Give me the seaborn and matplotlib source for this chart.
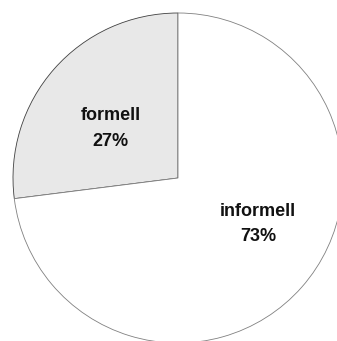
import numpy as np
import matplotlib
matplotlib.use("Agg")
import matplotlib.pyplot as plt
import seaborn as sns

# Daten
kategorien = ["formell", "informell"]
anteile = [27, 73]
farben = ["#e8e8e8", "#ffffff"]
randfarben = ["#404040", "#808080"]

sns.set_style("white")
plt.rcParams["font.family"] = ["Liberation Sans", "DejaVu Sans"]

fig = plt.figure(figsize=(3.37, 3.41), dpi=100)
# Kreis etwas groesser als die Flaeche, rechts/unten abgeschnitten
ax = fig.add_axes([13 / 337, -2 / 341, 330 / 337, 330 / 341])

wedges, _ = ax.pie(anteile, colors=farben, startangle=90, counterclock=True,
                   radius=1.0, wedgeprops=dict(linewidth=0.6))
for w, ec in zip(wedges, randfarben):
    w.set_edgecolor(ec)

# Beschriftungen
pos = [(-0.41, 0.30), (0.485, -0.28)]
for (x, y), name, wert in zip(pos, kategorien, anteile):
    ax.text(x, y, f"{name}\n{wert}%", ha="center", va="center",
            fontsize=13, fontweight="bold", linespacing=1.65, color="#111111")

ax.set_xlim(-1, 1)
ax.set_ylim(-1, 1)
ax.set_aspect("auto")
ax.axis("off")

fig.savefig("out.png", dpi=100)
